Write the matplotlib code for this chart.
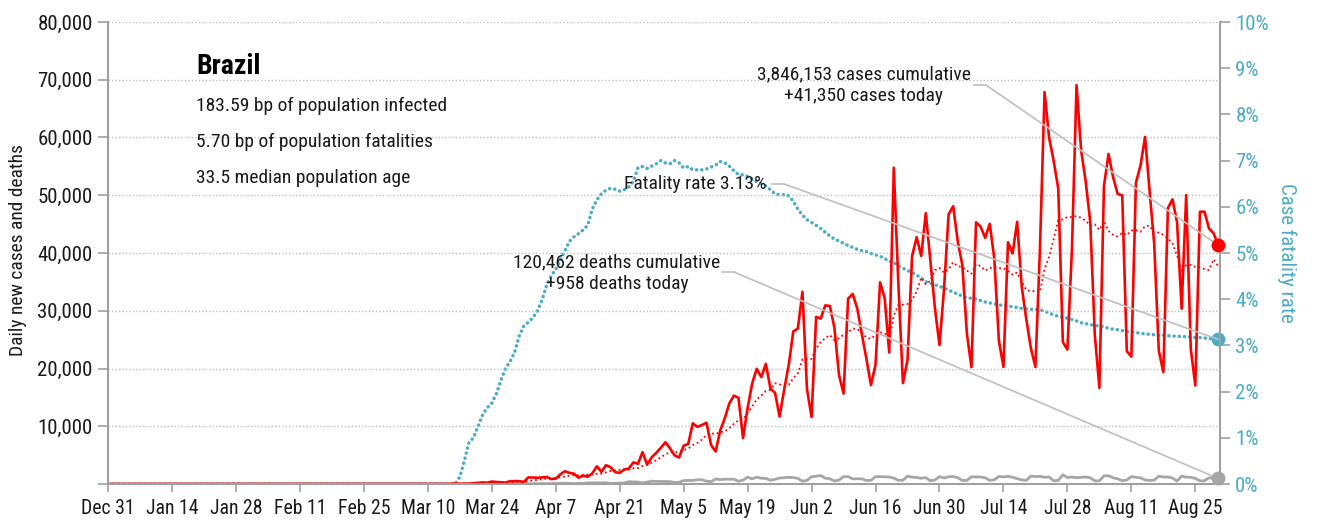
import numpy as np
import pandas as pd
import matplotlib
matplotlib.use('Agg')
import matplotlib.pyplot as plt
import matplotlib.dates as mdates
from matplotlib.lines import Line2D
from matplotlib import font_manager as fm

# ---------------- font: pick a condensed face if one is installed ----------------
def pick_font():
    names = {f.name for f in fm.fontManager.ttflist}
    for n in ['Liberation Sans Narrow', 'Roboto Condensed', 'Open Sans Condensed', 'Noto Sans Condensed',
              'DejaVu Sans Condensed', 'Arial Narrow']:
        if n in names:
            return n, 'normal'
    for f in fm.fontManager.ttflist:
        st = str(f.stretch).lower()
        if 'condensed' in st and 'extra' not in st and 'ultra' not in st:
            return f.name, st
    for f in fm.fontManager.ttflist:
        if 'condensed' in f.fname.lower() or 'narrow' in f.fname.lower():
            return f.name, 'normal'
    return None, 'normal'


FONT, STRETCH = pick_font()
if FONT is None:
    plt.rcParams['font.family'] = ['Liberation Sans', 'DejaVu Sans']
    SCALE = 0.86
else:
    plt.rcParams['font.family'] = [FONT, 'DejaVu Sans']
    plt.rcParams['font.stretch'] = STRETCH
    SCALE = 1.0

# ---------------- data ----------------
start_date = '2019-12-31'
end_date = '2020-08-30'

# daily new cases
cases_dec_feb = [0] * 57 + [1, 0, 0, 0]          # Dec 31 .. Feb 29
cases_mar = [1, 0, 0, 0, 1, 5, 5, 6, 5, 0, 5, 18, 25, 21, 23, 79, 34, 57, 57, 137,
             193, 283, 224, 418, 345, 310, 232, 482, 502, 487, 352]
cases_apr = [1138, 1119, 1074, 1146, 1222, 852, 926, 1661, 2210, 1930, 1781, 1089, 1442, 1261, 1832,
             3058, 2105, 3257, 2917, 2055, 1927, 2498, 2678, 3735, 3503, 5514, 3379, 4613, 5385, 6276]
cases_may = [7218, 6209, 4970, 4588, 6633, 6935, 10503, 9888, 10222, 10611, 6760, 5632, 9258, 11385,
             13944, 15305, 14919, 7938, 13140, 17408, 19951, 18508, 20803, 16508, 15813, 11687, 16324,
             20599, 26417, 26928, 33274]
cases_jun = [16409, 11598, 28936, 28633, 30925, 30830, 27075, 18912, 15654, 32091, 32913, 30412, 25982,
             21704, 17110, 20647, 34918, 32188, 22765, 54771, 34666, 17459, 21432, 39436, 42725, 39483,
             46907, 38693, 30476, 24052]
cases_jul = [33846, 46712, 48105, 41988, 37923, 26051, 20229, 45305, 44571, 42619, 45048, 39023, 24831,
             20286, 41857, 39924, 45403, 34177, 28532, 23529, 20257, 41008, 67860, 59961, 55891, 51147,
             24578, 23284, 40816, 69074, 57837]
cases_aug = [52383, 45392, 25800, 16641, 51603, 57152, 53139, 50230, 49970, 23010, 22048, 52160, 55155,
             60091, 50644, 41576, 23101, 19373, 47784, 49298, 45323, 30355, 50032, 23421, 17046, 47134,
             47161, 44235, 43412, 41350]

# daily new deaths
deaths_dec_feb = [0] * 61
deaths_mar = [0] * 16 + [1, 3, 2, 5, 7, 7, 9, 12, 12, 13, 18, 15, 22, 23, 42]
deaths_apr = [40, 58, 60, 73, 54, 67, 114, 133, 141, 115, 68, 99, 105, 204, 204, 188, 217, 206, 115, 113,
              166, 165, 407, 357, 346, 189, 338, 474, 449, 435]
deaths_may = [428, 421, 275, 296, 600, 615, 610, 751, 730, 496, 396, 881, 749, 844, 824, 816, 485, 674,
              1179, 888, 1188, 1001, 965, 653, 807, 1039, 1086, 1156, 1124, 956, 480]
deaths_jun = [623, 1262, 1349, 1473, 1005, 904, 525, 679, 1272, 1274, 883, 909, 892, 612, 627, 1282, 1269,
              1238, 1206, 1022, 641, 654, 1374, 1185, 1141, 990, 1109, 552, 692, 1280]
deaths_jul = [1038, 1252, 1290, 1091, 602, 620, 1254, 1223, 1214, 1071, 631, 733, 1300, 1233, 1322, 1163,
              921, 716, 632, 1367, 1284, 1311, 1156, 1211, 555, 627, 1595, 1129, 1212, 1088, 1156]
deaths_aug = [1212, 1088, 541, 561, 1394, 1437, 1079, 905, 572, 703, 1274, 1175, 1060, 709, 620, 684, 1352,
              1204, 1212, 1031, 494, 1365, 1188, 1156, 974, 555, 551, 1085, 984, 958]

# case fatality rate (%)
cfr_before = [0.0] * 77                           # Dec 31 .. Mar 16
cfr_mar = [0.15, 0.5, 0.9, 1.0, 1.25, 1.5, 1.65, 1.75, 1.95, 2.25, 2.5, 2.65, 2.85, 3.2, 3.42]
cfr_apr = [3.5, 3.6, 3.75, 3.98, 4.3, 4.5, 4.65, 4.85, 5.05, 5.25, 5.35, 5.42, 5.5, 5.6, 5.95, 6.15, 6.28,
           6.36, 6.4, 6.38, 6.34, 6.37, 6.43, 6.55, 6.85, 6.87, 6.83, 6.88, 6.93, 7.0]
cfr_may = [6.95, 6.93, 7.0, 6.95, 6.84, 6.87, 6.8, 6.8, 6.8, 6.82, 6.86, 6.9, 6.98, 6.95, 6.88, 6.78, 6.7,
           6.69, 6.66, 6.6, 6.54, 6.5, 6.45, 6.37, 6.28, 6.26, 6.26, 6.24, 6.12, 5.95, 5.82]
cfr_jun = [5.72, 5.66, 5.6, 5.53, 5.45, 5.37, 5.3, 5.26, 5.21, 5.16, 5.12, 5.08, 5.05, 5.03, 4.99, 4.96,
           4.93, 4.88, 4.82, 4.8, 4.72, 4.67, 4.62, 4.58, 4.52, 4.46, 4.38, 4.34, 4.31, 4.28]
cfr_jul = [4.24, 4.2, 4.15, 4.11, 4.07, 4.03, 4.02, 4.0, 3.97, 3.94, 3.92, 3.9, 3.88, 3.86, 3.85, 3.84,
           3.82, 3.8, 3.79, 3.78, 3.78, 3.77, 3.74, 3.7, 3.66, 3.63, 3.61, 3.59, 3.56, 3.53, 3.49]
cfr_aug = [3.47, 3.45, 3.43, 3.42, 3.4, 3.37, 3.35, 3.34, 3.32, 3.3, 3.29, 3.28, 3.26, 3.25, 3.24, 3.23,
           3.22, 3.22, 3.21, 3.2, 3.2, 3.19, 3.19, 3.18, 3.17, 3.17, 3.16, 3.15, 3.14, 3.13]

tick_labels_x = ['Dec 31', 'Jan 14', 'Jan 28', 'Feb 11', 'Feb 25', 'Mar 10', 'Mar 24', 'Apr 7', 'Apr 21',
                 'May 5', 'May 19', 'Jun 2', 'Jun 16', 'Jun 30', 'Jul 14', 'Jul 28', 'Aug 11', 'Aug 25']

country = 'Brazil'
info_lines = ['183.59 bp of population infected',
              '5.70 bp of population fatalities',
              '33.5 median population age']
cases_note = '3,846,153 cases cumulative\n+41,350 cases today'
deaths_note = '120,462 deaths cumulative\n+958 deaths today'
cfr_note = 'Fatality rate 3.13%'

# ---------------- assemble ----------------
dates = pd.date_range(start_date, end_date, freq='D')
cases = pd.Series(cases_dec_feb + cases_mar + cases_apr + cases_may + cases_jun + cases_jul + cases_aug,
                  index=dates, dtype=float)
deaths = pd.Series(deaths_dec_feb + deaths_mar + deaths_apr + deaths_may + deaths_jun + deaths_jul
                   + deaths_aug, index=dates, dtype=float)
cfr = pd.Series(cfr_before + cfr_mar + cfr_apr + cfr_may + cfr_jun + cfr_jul + cfr_aug,
                index=dates, dtype=float) / 100.0
cases_avg = cases.rolling(7, min_periods=1).mean()

RED = '#FF0000'
TEAL = '#4BACC6'
GRAY = '#A6A6A6'
SPINE = '#A0A0A0'
LEAD = '#BFBFBF'
TXT = '#1A1A1A'

FS = 15 * SCALE
FN = 14 * SCALE

W, H = 1319, 523
fig = plt.figure(figsize=(W / 100, H / 100), dpi=100)
fig.patch.set_facecolor('white')
L, R, T, B = 108, 1220, 22, 484
ax = fig.add_axes([L / W, 1 - B / H, (R - L) / W, (B - T) / H])
ax2 = ax.twinx()
ax.set_zorder(ax2.get_zorder() + 1)
ax.patch.set_visible(False)

# CFR (right axis)
ax2.plot(dates, cfr.values, color=TEAL, lw=2.5, ls=(0, (0.05, 1.45)), dash_capstyle='round')
ax2.plot(dates[-1:], cfr.values[-1:], 'o', color=TEAL, ms=9, clip_on=False)
ax2.set_ylim(0, 0.10)

# cases & deaths (left axis)
ax.plot(dates, deaths.values, color=GRAY, lw=2.0)
ax.plot(dates, cases_avg.values, color=RED, lw=1.3, ls=(0, (1, 1.6)))
ax.plot(dates, cases.values, color=RED, lw=1.9)
ax.plot(dates[-1:], cases.values[-1:], 'o', color=RED, ms=9, clip_on=False, zorder=5)
ax.plot(dates[-1:], deaths.values[-1:], 'o', color=GRAY, ms=9, clip_on=False, zorder=5)
ax.set_ylim(0, 80000)

x0 = mdates.date2num(dates[0])
x1 = mdates.date2num(dates[-1]) + 0.4
ax.set_xlim(x0, x1)

xt = pd.date_range(start_date, periods=len(tick_labels_x), freq='14D')
ax.set_xticks(xt)
ax.set_xticklabels(tick_labels_x)

yt = np.arange(0, 80001, 10000)
ax.set_yticks(yt)
ax.set_yticklabels(['' if v == 0 else f'{v:,}' for v in yt])
ax2.set_yticks(np.arange(0, 0.1001, 0.01))
ax2.set_yticklabels([f'{int(round(v * 100))}%' for v in np.arange(0, 0.1001, 0.01)])

ax.yaxis.grid(True, ls=(0, (1, 1.5)), color=LEAD, lw=1.0)
ax.set_axisbelow(True)

for a in (ax, ax2):
    a.spines['top'].set_visible(False)
    for s in ('left', 'right', 'bottom'):
        a.spines[s].set_color(SPINE)
        a.spines[s].set_linewidth(1.5)
ax.spines['right'].set_visible(False)
ax2.spines['left'].set_visible(False)
ax2.spines['bottom'].set_visible(False)

ax.tick_params(axis='y', direction='out', length=7, width=1.2, color=SPINE, labelsize=FS,
               labelcolor=TXT, pad=4)
ax.tick_params(axis='x', direction='out', length=6, width=1.2, color=SPINE, labelsize=FS * 0.95,
               labelcolor=TXT, pad=5)
ax2.tick_params(axis='y', direction='out', length=7, width=1.2, color=SPINE, labelsize=FS,
                labelcolor=TEAL, pad=4)

fig.text(18 / W, 1 - 250 / H, 'Daily new cases and deaths', rotation=90, ha='center', va='center',
         fontsize=FS * 0.93, color=TXT)
fig.text(1287 / W, 1 - 253 / H, 'Case fatality rate', rotation=270, ha='center', va='center',
         fontsize=FS, color=TEAL)

# info block
fig.text(196 / W, 1 - 66 / H, country, ha='left', va='center', fontsize=20 * SCALE, fontweight='bold',
         color='#000000')
for i, line in enumerate(info_lines):
    fig.text(196 / W, 1 - (106 + 36 * i) / H, line, ha='left', va='center', fontsize=FN, color=TXT)

# notes
fig.text(864 / W, 1 - 85 / H, cases_note, ha='center', va='center', fontsize=FN, color=TXT,
         linespacing=1.25, multialignment='center')
fig.text(766 / W, 1 - 184 / H, cfr_note, ha='right', va='center', fontsize=FN, color=TXT)
fig.text(617 / W, 1 - 273 / H, deaths_note, ha='center', va='center', fontsize=FN, color=TXT,
         linespacing=1.25, multialignment='center')


def leader(px, py, target, trans):
    stub = 12
    fig.add_artist(Line2D([px / W, (px + stub) / W], [1 - py / H, 1 - py / H], transform=fig.transFigure,
                          color=LEAD, lw=1.2))
    ax.annotate('', xy=target, xycoords=trans, xytext=((px + stub) / W, 1 - py / H),
                textcoords='figure fraction',
                arrowprops=dict(arrowstyle='-', color=LEAD, lw=1.2, shrinkA=0, shrinkB=0))


xl = mdates.date2num(dates[-1])
leader(974, 85, (xl, cases.values[-1]), ax.transData)
leader(772, 184, (xl, cfr.values[-1]), ax2.transData)
leader(722, 272, (xl, deaths.values[-1]), ax.transData)

fig.savefig('out.png', dpi=100, facecolor='white')
